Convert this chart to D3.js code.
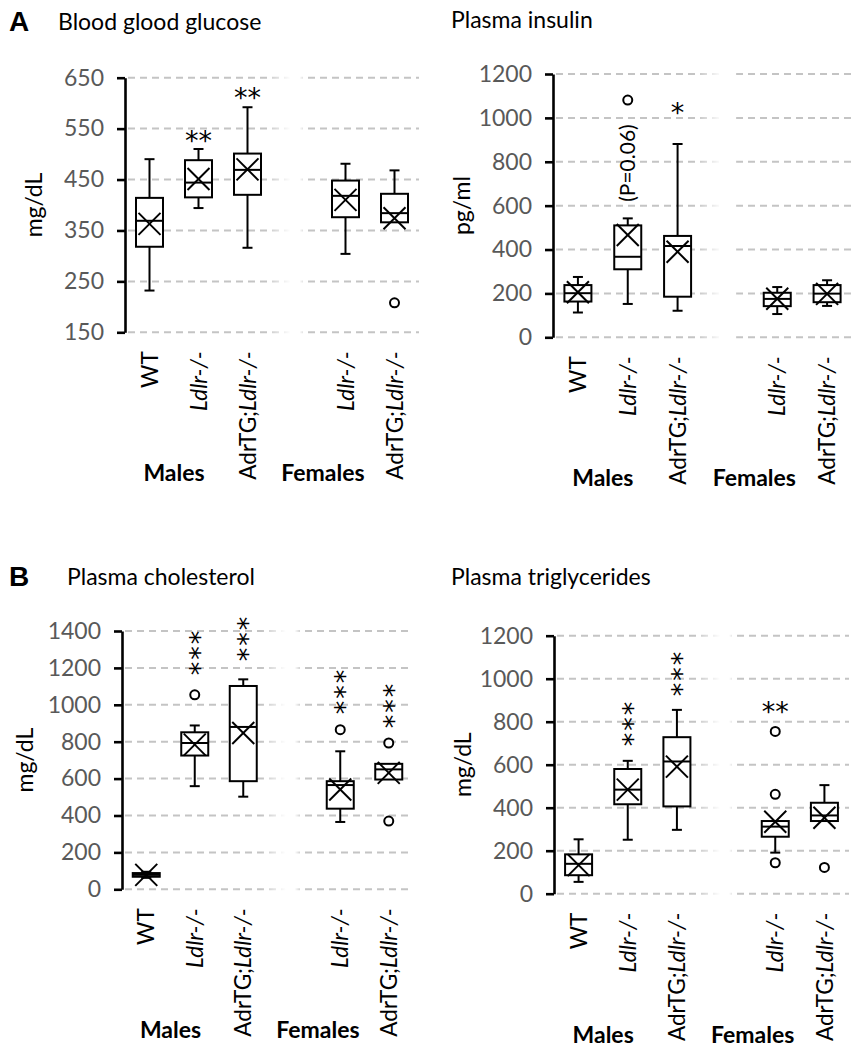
<!DOCTYPE html>
<html><head><meta charset="utf-8">
<script src="https://cdn.jsdelivr.net/npm/d3@7"></script>
<style>body{margin:0;background:#fff}svg{display:block}</style>
</head><body>
<svg id="c" width="864" height="1050"></svg>
<script>
// ---------- categories ----------
const slots = ["WT","mLdlr","mAdr","gap","fLdlr","fAdr"];
const boxSlots = ["WT","mLdlr","mAdr","fLdlr","fAdr"];
const categoryLabels = [
  [["WT",false]],
  [["Ldlr-/-",true]],
  [["AdrTG;",false],["Ldlr-/-",true]],
  [["Ldlr-/-",true]],
  [["AdrTG;",false],["Ldlr-/-",true]]
];
const sexLabels = ["Males","Females"];

// ---------- data: [lowWhisker, q1, median, q3, highWhisker] ----------
const glucoseTicks = [150,250,350,450,550,650];
const glucoseStats = [[232,318,369,414,490],[394,415,444,488,510],[316,420,469,501,592],[304,376,418,448,481],[366,366,384,422,468]];
const glucoseMeans = [363,451,470,410,374];
const glucoseOutliers = [[],[],[],[],[208]];
const glucoseStars = [["mLdlr","**",535,false],["mAdr","**",620,false]];

const insulinTicks = [0,200,400,600,800,1000,1200];
const insulinStats = [[113,163,201,238,275],[152,310,367,510,542],[121,185,416,462,881],[106,142,175,203,229],[143,160,199,238,260]];
const insulinMeans = [205,466,390,176,198];
const insulinOutliers = [[],[1081],[],[],[]];
const insulinStars = [["mAdr","*",1044,false]];
const insulinNotes = [["mLdlr","(P=0.06)",794]];

const cholTicks = [0,200,400,600,800,1000,1200,1400];
const cholStats = [[62,68,78,88,95],[559,725,793,851,888],[502,586,880,1102,1138],[365,437,565,586,748],[595,595,650,680,680]];
const cholMeans = [78,784,847,541,631];
const cholOutliers = [[],[1054],[],[865],[793,370]];
const cholStars = [["mLdlr","***",1286,true],["mAdr","***",1362,true],["fLdlr","***",1075,true],["fAdr","***",999,true]];

const trigTicks = [0,200,400,600,800,1000,1200];
const trigStats = [[55,86,139,183,253],[251,416,484,580,618],[297,406,615,728,855],[191,265,312,338,338],[338,338,364,423,505]];
const trigMeans = [133,484,591,335,353];
const trigOutliers = [[],[],[],[755,462,144],[122]];
const trigStars = [["mLdlr","***",794,true],["mAdr","***",1027,true],["fLdlr","**",868,false]];

// ---------- layout ----------
const panels = [
  {id:"glu", letter:"A", title:"Blood glood glucose", unit:"mg/dL", ticks:glucoseTicks, stats:glucoseStats, means:glucoseMeans, outliers:glucoseOutliers, stars:glucoseStars, notes:[],
   L:{x0:125, x1:419, yTop:77.7, yBot:332.3, titleX:58, titleY:30, letterX:9, unitX:34}},
  {id:"ins", letter:null, title:"Plasma insulin", unit:"pg/ml", ticks:insulinTicks, stats:insulinStats, means:insulinMeans, outliers:insulinOutliers, stars:insulinStars, notes:insulinNotes,
   L:{x0:553, x1:852, yTop:74, yBot:337.3, titleX:451, titleY:28, unitX:462}},
  {id:"cho", letter:"B", title:"Plasma cholesterol", unit:"mg/dL", ticks:cholTicks, stats:cholStats, means:cholMeans, outliers:cholOutliers, stars:cholStars, notes:[],
   L:{x0:122, x1:413, yTop:631, yBot:889.3, titleX:67, titleY:585, letterX:9, unitX:25}},
  {id:"tri", letter:null, title:"Plasma triglycerides", unit:"mg/dL", ticks:trigTicks, stats:trigStats, means:trigMeans, outliers:trigOutliers, stars:trigStars, notes:[],
   L:{x0:554, x1:849, yTop:635.7, yBot:893.7, titleX:451, titleY:585, unitX:463}}
];

const FONT = "Lato, 'Open Sans', sans-serif";
const STARFONT = "'DejaVu Sans', sans-serif";
const svg = d3.select("#c");
svg.append("rect").attr("width",864).attr("height",1050).attr("fill","#fff");
const defs = svg.append("defs");

function drawPanel(p){
  const L = p.L;
  const x = d3.scaleBand().domain(slots).range([L.x0, L.x1]);
  const bw = x.bandwidth();
  const cx = s => x(s) + bw/2;
  const y = d3.scaleLinear().domain([p.ticks[0], p.ticks[p.ticks.length-1]]).range([L.yBot, L.yTop]);
  const g = svg.append("g");

  // gridline fade gradient around the gap slot
  const gc = cx("gap");
  const f = v => ((v - L.x0) / (L.x1 - L.x0)).toFixed(4);
  const grad = defs.append("linearGradient").attr("id","fade-"+p.id)
    .attr("gradientUnits","userSpaceOnUse").attr("x1",L.x0).attr("x2",L.x1).attr("y1",0).attr("y2",0);
  [[0,"#c4c4c4"],[f(gc-30),"#c4c4c4"],[f(gc-6),"#ffffff"],[f(gc+3),"#ffffff"],[f(gc+10),"#c4c4c4"],[1,"#c4c4c4"]]
    .forEach(s => grad.append("stop").attr("offset",s[0]).attr("stop-color",s[1]));

  g.append("g").selectAll("line").data(p.ticks).join("line")
    .attr("x1", L.x0 + 3).attr("x2", L.x1).attr("y1", d => y(d)).attr("y2", d => y(d))
    .attr("stroke", "url(#fade-"+p.id+")").attr("stroke-width", 2).attr("stroke-dasharray","7,5");

  // axis
  const ax = g.append("g").attr("transform", `translate(${L.x0},0)`)
    .call(d3.axisLeft(y).tickValues(p.ticks).tickSizeInner(8).tickSizeOuter(0).tickPadding(13).tickFormat(d3.format("d")));
  ax.select(".domain").attr("stroke","#000").attr("stroke-width",2.6);
  ax.selectAll(".tick line").attr("stroke","#000").attr("stroke-width",2.6);
  ax.selectAll(".tick text").attr("fill","#595959").style("font-family",FONT).style("font-size","23px");

  // boxes
  const bx = 13.5, cap = 5, mk = 11;
  boxSlots.forEach((s, i) => {
    const [lo, q1, md, q3, hi] = p.stats[i];
    const c = cx(s);
    const bg = g.append("g").attr("stroke","#000").attr("stroke-width",2).attr("fill","none");
    if (hi > q3) {
      bg.append("line").attr("x1",c).attr("x2",c).attr("y1",y(hi)).attr("y2",y(q3));
      bg.append("line").attr("x1",c-cap).attr("x2",c+cap).attr("y1",y(hi)).attr("y2",y(hi));
    }
    if (lo < q1) {
      bg.append("line").attr("x1",c).attr("x2",c).attr("y1",y(q1)).attr("y2",y(lo));
      bg.append("line").attr("x1",c-cap).attr("x2",c+cap).attr("y1",y(lo)).attr("y2",y(lo));
    }
    bg.append("rect").attr("x",c-bx).attr("width",bx*2).attr("y",y(q3)).attr("height",Math.max(1,y(q1)-y(q3))).attr("fill","#fff");
    bg.append("line").attr("x1",c-bx).attr("x2",c+bx).attr("y1",y(md)).attr("y2",y(md));
    const my = y(p.means[i]);
    bg.append("line").attr("x1",c-mk).attr("x2",c+mk).attr("y1",my-mk).attr("y2",my+mk);
    bg.append("line").attr("x1",c-mk).attr("x2",c+mk).attr("y1",my+mk).attr("y2",my-mk);
    p.outliers[i].forEach(o => bg.append("circle").attr("cx",c).attr("cy",y(o)).attr("r",4.5).attr("fill","#fff"));
  });

  // significance stars
  const sfs = 27;
  p.stars.forEach(([s, txt, v, vertical]) => {
    const c = cx(s), yy = y(v);
    if (!vertical) {
      g.append("text").attr("x",c).attr("y",yy).attr("dy","0.52em").attr("text-anchor","middle")
        .style("font-family",STARFONT).style("font-size",sfs+"px").attr("fill","#000").text(txt);
    } else {
      g.append("text").attr("transform",`translate(${c-3},${yy}) rotate(-90)`).attr("dy","0.62em").attr("text-anchor","middle")
        .attr("letter-spacing","2px")
        .style("font-family",STARFONT).style("font-size",sfs+"px").attr("fill","#000").text(txt);
    }
  });
  p.notes.forEach(([s, txt, v]) => {
    g.append("text").attr("transform",`translate(${cx(s)},${y(v)}) rotate(-90)`).attr("text-anchor","middle")
      .attr("dy","0.35em").style("font-family",FONT).style("font-size","21px").attr("fill","#000").text(txt);
  });

  // category labels
  boxSlots.forEach((s, i) => {
    const t = g.append("text").attr("transform",`translate(${cx(s)},${L.yBot + 19}) rotate(-90)`)
      .attr("text-anchor","end").attr("dy","0.36em").style("font-family",FONT).style("font-size","22.5px").attr("fill","#000");
    categoryLabels[i].forEach(([str, it]) => t.append("tspan").style("font-style", it ? "italic" : "normal").text(str));
  });
  // sex labels
  const sexX = [(cx("WT")+cx("mLdlr"))/2, (cx("gap")+cx("fLdlr"))/2 + 2];
  sexLabels.forEach((lab, i) => g.append("text").attr("x", sexX[i]).attr("y", L.yBot + 149).attr("text-anchor","middle")
    .style("font-family",FONT).style("font-size","23px").style("font-weight","bold").attr("fill","#000").text(lab));

  // unit label
  g.append("text").attr("transform",`translate(${L.unitX},${(L.yTop+L.yBot)/2}) rotate(-90)`).attr("text-anchor","middle")
    .attr("dy","0.35em").style("font-family",FONT).style("font-size","23px").attr("fill","#000").text(p.unit);

  // title & panel letter
  g.append("text").attr("x",L.titleX).attr("y",L.titleY).style("font-family",FONT).style("font-size","23px").attr("fill","#000").text(p.title);
  if (p.letter) g.append("text").attr("x",L.letterX).attr("y",L.titleY+1).style("font-family","'Liberation Sans', Arial, sans-serif")
    .style("font-size","28px").style("font-weight","bold").attr("fill","#000").text(p.letter);
}
panels.forEach(drawPanel);
</script>
</body></html>
